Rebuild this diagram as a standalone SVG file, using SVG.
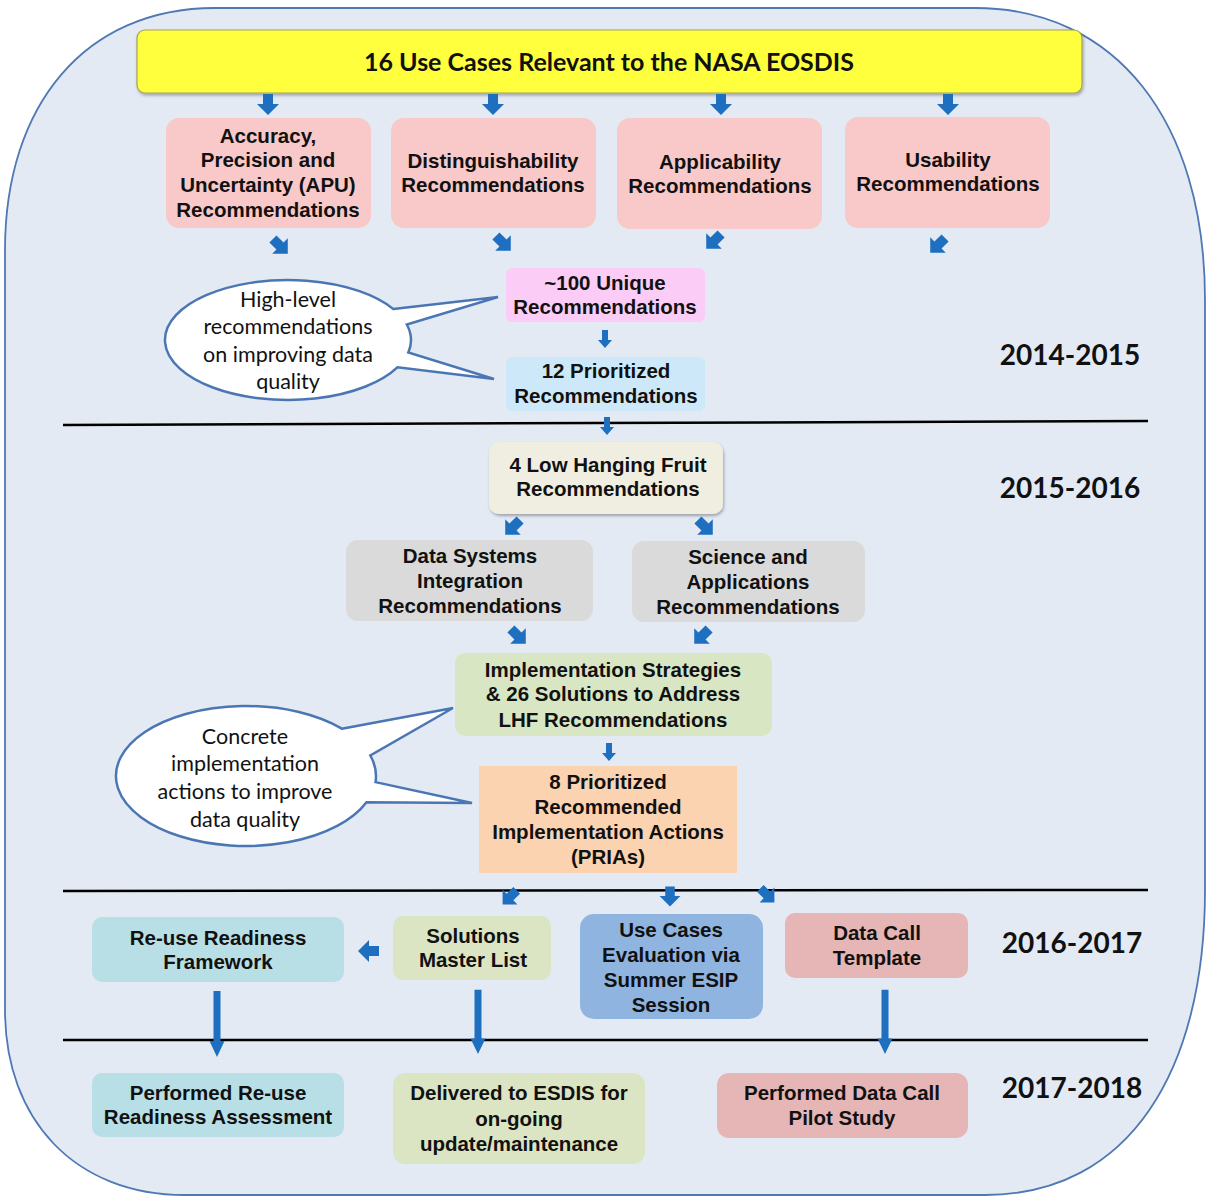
<svg xmlns="http://www.w3.org/2000/svg" width="1209" height="1199" viewBox="0 0 1209 1199">
<defs>
<style>
.bx{stroke:none}
.t{font-family:"Liberation Sans",Arial,sans-serif;font-weight:bold;font-size:20.5px;fill:#111;text-anchor:middle}
.c{font-family:Lato,"Open Sans",sans-serif;font-size:21.5px;fill:#111;text-anchor:middle}
.yr{font-family:Lato,"Open Sans",sans-serif;font-weight:bold;font-size:28px;fill:#111;text-anchor:middle}
.ttl{font-family:Lato,"Open Sans",sans-serif;font-weight:bold;font-size:25px;fill:#111;text-anchor:middle}
.ar{fill:#1e6fbf}
.sep{stroke:#000;stroke-width:2.5}
.bub{fill:#fff;stroke:#4a76b4;stroke-width:2.5}
</style>
<filter id="sh" x="-10%" y="-20%" width="120%" height="150%">
<feDropShadow dx="1" dy="2" stdDeviation="1.5" flood-color="#000" flood-opacity="0.3"/>
</filter>
<polygon id="da" points="-5,-10 5,-10 5,0 11,0 0,11 -11,0 -5,0"/>
<polygon id="sa" points="-3,-9 3,-9 3,1 7,1 0,9 -7,1 -3,1"/>
<polygon id="la" points="-3.5,-33 3.5,-33 3.5,-8 7.5,-8 0,0 -7.5,-8 -3.5,-8"/>
</defs>

<path d="M215,8 L975,8 C1115,8 1205,120 1205,300 L1205,890 C1205,1070 1130,1195 985,1195 L185,1195 C75,1195 5,1120 5,1010 L5,250 C5,105 85,8 215,8 Z" fill="#e3eaf4" stroke="#4f78b4" stroke-width="1.8"/>

<g id="separators">
<line class="sep" x1="63" y1="425" x2="1148" y2="421"/>
<line class="sep" x1="63" y1="891" x2="1148" y2="890"/>
<line class="sep" x1="63" y1="1040" x2="1148" y2="1040"/>
</g>

<g id="years">
<text class="yr" x="1070" y="365">2014-2015</text>
<text class="yr" x="1070" y="498">2015-2016</text>
<text class="yr" x="1072" y="953">2016-2017</text>
<text class="yr" x="1072" y="1098">2017-2018</text>
</g>

<g id="banner">
<rect x="137" y="30" width="945" height="63" rx="8" fill="#ffff3c" stroke="#a3a05c" stroke-width="1.2" filter="url(#sh)"/>
<text class="ttl" x="609" y="71">16 Use Cases Relevant to the NASA EOSDIS</text>
</g>

<g id="apu">
<rect class="bx" x="166" y="118" width="205" height="110" rx="13" fill="#f8c9c8"/>
<text class="t" x="268" y="143">Accuracy,</text>
<text class="t" x="268" y="167">Precision and</text>
<text class="t" x="268" y="192">Uncertainty (APU)</text>
<text class="t" x="268" y="217">Recommendations</text>
</g>
<g id="dist">
<rect class="bx" x="391" y="118" width="205" height="110" rx="13" fill="#f8c9c8"/>
<text class="t" x="493" y="168">Distinguishability</text>
<text class="t" x="493" y="192">Recommendations</text>
</g>
<g id="appl">
<rect class="bx" x="617" y="118" width="205" height="111" rx="13" fill="#f8c9c8"/>
<text class="t" x="720" y="169">Applicability</text>
<text class="t" x="720" y="193">Recommendations</text>
</g>
<g id="usab">
<rect class="bx" x="845" y="117" width="205" height="111" rx="13" fill="#f8c9c8"/>
<text class="t" x="948" y="167">Usability</text>
<text class="t" x="948" y="191">Recommendations</text>
</g>

<g id="unique">
<rect class="bx" x="506" y="268" width="199" height="54" rx="6" fill="#fbcdf6"/>
<text class="t" x="605" y="290">~100 Unique</text>
<text class="t" x="605" y="314">Recommendations</text>
</g>
<g id="prior12">
<rect class="bx" x="506" y="357" width="199" height="54" rx="6" fill="#cde9f9"/>
<text class="t" x="606" y="378">12 Prioritized</text>
<text class="t" x="606" y="403">Recommendations</text>
</g>

<g id="callout1">
<path class="bub" d="M393.4,309.1 L498,297 L406.8,324.5 A123,60 0 0 1 408.3,352.5 L494,379 L397.6,367.2 A123,60 0 1 1 393.4,309.1 Z"/>
<text class="c" x="288" y="307">High-level</text>
<text class="c" x="288" y="334">recommendations</text>
<text class="c" x="288" y="362">on improving data</text>
<text class="c" x="288" y="389">quality</text>
</g>

<g id="lhf">
<rect x="489" y="442" width="234" height="72" rx="10" fill="#efeee1" filter="url(#sh)"/>
<text class="t" x="608" y="472">4 Low Hanging Fruit</text>
<text class="t" x="608" y="496">Recommendations</text>
</g>

<g id="dsi">
<rect class="bx" x="346" y="540" width="247" height="81" rx="12" fill="#dadada"/>
<text class="t" x="470" y="563">Data Systems</text>
<text class="t" x="470" y="588">Integration</text>
<text class="t" x="470" y="613">Recommendations</text>
</g>
<g id="sciapp">
<rect class="bx" x="632" y="541" width="233" height="81" rx="12" fill="#dadada"/>
<text class="t" x="748" y="564">Science and</text>
<text class="t" x="748" y="589">Applications</text>
<text class="t" x="748" y="614">Recommendations</text>
</g>

<g id="impl">
<rect class="bx" x="455" y="653" width="317" height="83" rx="10" fill="#d8e6c4"/>
<text class="t" x="613" y="677">Implementation Strategies</text>
<text class="t" x="613" y="701">&amp; 26 Solutions to Address</text>
<text class="t" x="613" y="727">LHF Recommendations</text>
</g>

<g id="prias">
<rect class="bx" x="479" y="766" width="258" height="107" fill="#fbd3b1"/>
<text class="t" x="608" y="789">8 Prioritized</text>
<text class="t" x="608" y="814">Recommended</text>
<text class="t" x="608" y="839">Implementation Actions</text>
<text class="t" x="608" y="864">(PRIAs)</text>
</g>

<g id="callout2">
<path class="bub" d="M341.8,728.7 L453,708 L370.3,755.5 A130,70 0 0 1 375.5,782.1 L472,803 L366.5,802.2 A130,70 0 1 1 341.8,728.7 Z"/>
<text class="c" x="245" y="744">Concrete</text>
<text class="c" x="245" y="771">implementation</text>
<text class="c" x="245" y="799">actions to improve</text>
<text class="c" x="245" y="827">data quality</text>
</g>

<g id="rrf">
<rect class="bx" x="92" y="917" width="252" height="65" rx="10" fill="#b9dfe6"/>
<text class="t" x="218" y="945">Re-use Readiness</text>
<text class="t" x="218" y="969">Framework</text>
</g>
<g id="sml">
<rect class="bx" x="393" y="916" width="158" height="64" rx="10" fill="#dbe5c3"/>
<text class="t" x="473" y="943">Solutions</text>
<text class="t" x="473" y="967">Master List</text>
</g>
<g id="uce">
<rect class="bx" x="580" y="914" width="183" height="105" rx="14" fill="#8fb4df"/>
<text class="t" x="671" y="937">Use Cases</text>
<text class="t" x="671" y="962">Evaluation via</text>
<text class="t" x="671" y="987">Summer ESIP</text>
<text class="t" x="671" y="1012">Session</text>
</g>
<g id="dct">
<rect class="bx" x="785" y="913" width="183" height="65" rx="10" fill="#e6b6b6"/>
<text class="t" x="877" y="940">Data Call</text>
<text class="t" x="877" y="965">Template</text>
</g>

<g id="prra">
<rect class="bx" x="92" y="1073" width="252" height="64" rx="10" fill="#b9dfe6"/>
<text class="t" x="218" y="1100">Performed Re-use</text>
<text class="t" x="218" y="1124">Readiness Assessment</text>
</g>
<g id="deliv">
<rect class="bx" x="393" y="1073" width="252" height="91" rx="12" fill="#dbe5c3"/>
<text class="t" x="519" y="1100">Delivered to ESDIS for</text>
<text class="t" x="519" y="1126">on-going</text>
<text class="t" x="519" y="1151">update/maintenance</text>
</g>
<g id="pdc">
<rect class="bx" x="717" y="1073" width="251" height="65" rx="12" fill="#e6b6b6"/>
<text class="t" x="842" y="1100">Performed Data Call</text>
<text class="t" x="842" y="1125">Pilot Study</text>
</g>

<g id="connectors" class="ar">
<use href="#da" transform="translate(268,104)"/>
<use href="#da" transform="translate(493,104)"/>
<use href="#da" transform="translate(721,104)"/>
<use href="#da" transform="translate(948,104)"/>
<use href="#da" transform="translate(280,246) rotate(-45)"/>
<use href="#da" transform="translate(503,243) rotate(-45)"/>
<use href="#da" transform="translate(714,241) rotate(45)"/>
<use href="#da" transform="translate(938,245) rotate(45)"/>
<use href="#sa" transform="translate(605,339)"/>
<use href="#sa" transform="translate(607,426)"/>
<use href="#da" transform="translate(513,527) rotate(45)"/>
<use href="#da" transform="translate(705,527) rotate(-45)"/>
<use href="#da" transform="translate(518,636) rotate(-45)"/>
<use href="#da" transform="translate(702,636) rotate(45)"/>
<use href="#sa" transform="translate(609,752)"/>
<use href="#da" transform="translate(510,897) rotate(45) scale(0.95)"/>
<use href="#da" transform="translate(670,896) scale(0.95)"/>
<use href="#da" transform="translate(767,895) rotate(-45) scale(0.95)"/>
<use href="#da" transform="translate(369,951) rotate(90)"/>
<use href="#la" transform="translate(217,1057) scale(1,2)"/>
<use href="#la" transform="translate(478,1054) scale(1,1.95)"/>
<use href="#la" transform="translate(885,1054) scale(1,1.95)"/>
</g>
</svg>
